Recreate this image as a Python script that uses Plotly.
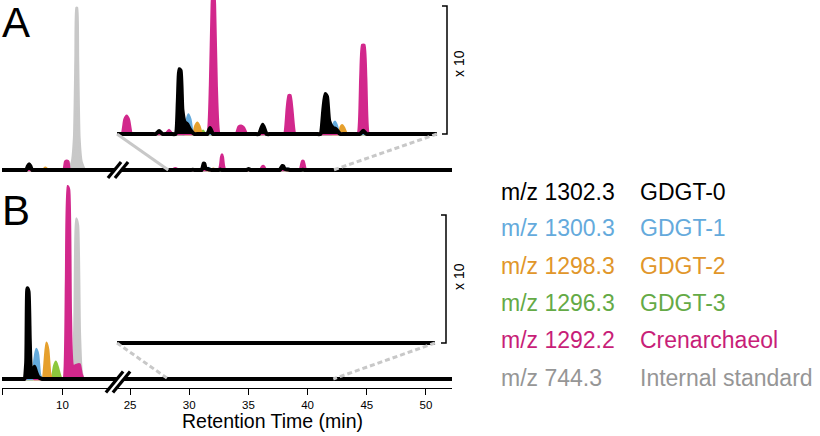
import plotly.graph_objects as go

W, H = 820, 436
FONT = "Liberation Sans, Arial, Helvetica, sans-serif"

# ---------------- data (retention time in min, intensity relative to internal standard = 100) ----------------
MZ_LABELS = ["m/z 1302.3", "m/z 1300.3", "m/z 1298.3", "m/z 1296.3", "m/z 1292.2", "m/z 744.3"]
COMPOUNDS = ["GDGT-0", "GDGT-1", "GDGT-2", "GDGT-3", "Crenarchaeol", "Internal standard"]
TEXT_COLORS = ["#000000", "#64AADC", "#E1962A", "#64AA46", "#C81E78", "#969696"]
TRACE_COLORS = ["#000000", "#64AADC", "#E6A02D", "#8CC83C", "#D2288C", "#C8C8C8"]

TICKS_LEFT = [5, 10]
TICKS_RIGHT = [25, 30, 35, 40, 45, 50]

# Panel A
A_black_t = [4.8, 6.8, 6.95, 7.1, 7.2, 7.3, 7.45, 7.6,
             29.95, 30.15, 30.3, 30.45, 30.65,
             30.85, 31.05, 31.15, 31.22, 31.28, 31.36, 31.46, 31.58, 31.72, 31.9, 32.1,
             32.35, 32.5, 32.62, 32.75, 32.9,
             34.65, 34.85, 35.02, 35.2, 35.4,
             37.45, 37.65, 37.78, 37.87, 37.95, 38.05, 38.2, 38.35, 38.55, 38.75,
             39.25, 39.45, 39.6, 39.75, 39.95, 52.3]
A_black_i = [0, 0, 0, 2.5, 3.5, 2.5, 0, 0,
             0, 0, 0.19, 0, 0,
             0, 0, 2.0, 4.0, 3.9, 1.5, 0.75, 0.6, 0.25, 0, 0,
             0, 0, 0.37, 0, 0,
             0, 0, 0.57, 0, 0,
             0, 0, 1.5, 2.47, 2.3, 0.8, 0.4, 0.3, 0, 0,
             0, 0, 0.2, 0, 0, 0]
A_blue_t = [4.8, 31.3, 31.45, 31.55, 31.63, 31.72, 31.85, 32.0,
            38.0, 38.15, 38.25, 38.31, 38.4, 38.5, 38.65, 52.3]
A_blue_i = [0, 0, 0, 0.8, 1.2, 0.9, 0, 0,
            0, 0, 0.6, 0.76, 0.5, 0, 0, 0]
A_orange_t = [4.8, 8.25, 8.4, 8.5, 8.56, 8.65, 8.75, 8.9,
              31.7, 31.85, 31.95, 32.04, 32.13, 32.25, 32.4,
              38.35, 38.5, 38.58, 38.64, 38.72, 38.85, 39.0, 52.3]
A_orange_i = [0, 0, 0, 1.2, 1.4, 1.0, 0, 0,
              0, 0, 0.5, 0.7, 0.5, 0, 0,
              0, 0, 0.45, 0.54, 0.4, 0, 0, 0]
A_green_t = [4.8, 32.05, 32.2, 32.3, 32.4, 32.55, 52.3]
A_green_i = [0, 0, 0, 0.2, 0, 0, 0]
A_pink_t = [4.8, 9.95, 10.1, 10.22, 10.3, 10.42, 10.5, 10.6, 10.75,
            28.45, 28.6, 28.72, 28.82, 28.92, 29.05, 29.2,
            30.45, 30.6, 30.75, 30.9, 31.05,
            32.35, 32.5, 32.62, 32.7, 32.77, 32.84, 32.92, 33.05, 33.2,
            33.65, 33.8, 33.92, 34.04, 34.16, 34.3, 34.45,
            35.85, 36.0, 36.12, 36.2, 36.28, 36.36, 36.5, 36.65,
            39.2, 39.35, 39.47, 39.55, 39.65, 39.73, 39.85, 40.0, 52.3]
A_pink_i = [0, 0, 0, 5.0, 5.6, 5.6, 5.0, 0, 0,
            0, 0, 0.9, 1.13, 0.9, 0, 0,
            0, 0, 0.25, 0, 0,
            0, 0, 3.0, 8.0, 9.5, 8.0, 3.0, 0, 0,
            0, 0, 0.45, 0.51, 0.4, 0, 0,
            0, 0, 1.6, 2.4, 2.4, 1.6, 0, 0,
            0, 0, 3.5, 5.5, 5.5, 3.5, 0, 0, 0]
A_gray_t = [4.8, 10.3, 10.5, 10.8, 10.98, 11.1, 11.17, 11.23, 11.3, 11.42, 11.6, 11.9, 12.1, 52.3]
A_gray_i = [0, 0, 0, 5, 20, 70, 100, 100, 70, 20, 5, 0, 0, 0]

# Panel B
B_black_t = [4.8, 6.65, 6.8, 6.95, 7.05, 7.15, 7.25, 7.35, 7.5, 7.65, 7.8, 8.0, 8.3, 8.5, 52.3]
B_black_i = [0, 0, 0, 10, 56, 54, 25, 6, 3, 7.6, 4, 1, 0, 0, 0]
B_blue_t = [4.8, 7.35, 7.5, 7.65, 7.8, 7.95, 8.1, 8.25, 8.4, 52.3]
B_blue_i = [0, 0, 0, 12, 18.5, 15, 3, 0, 0, 0]
B_orange_t = [4.8, 8.2, 8.35, 8.5, 8.65, 8.8, 8.95, 9.1, 9.25, 52.3]
B_orange_i = [0, 0, 0, 10, 22.4, 18, 4, 0, 0, 0]
B_green_t = [4.8, 8.95, 9.1, 9.3, 9.45, 9.65, 9.85, 10.0, 10.2, 10.35, 10.5, 10.65, 10.8, 10.95, 52.3]
B_green_i = [0, 0, 0, 8, 10.7, 6, 1, 0, 0, 7, 7.6, 5, 0, 0, 0]
B_pink_t = [4.8, 6.75, 6.9, 7.0, 7.5, 7.65, 7.8, 9.95, 10.1, 10.3, 10.42, 10.55, 10.7, 10.9,
            11.3, 11.45, 11.6, 11.8, 11.95, 52.3]
B_pink_i = [0, 0, 0, 1.5, 1.2, 0, 0, 0, 0, 60, 119, 117, 40, 8,
            9, 9, 3, 0, 0, 0]
B_gray_t = [4.8, 10.65, 10.8, 11.0, 11.15, 11.3, 11.45, 11.6, 11.8, 11.95, 52.3]
B_gray_i = [0, 0, 0, 30, 99, 95, 30, 5, 0, 0, 0]

PANEL_A = [(A_black_t, A_black_i), (A_blue_t, A_blue_i), (A_orange_t, A_orange_i),
           (A_green_t, A_green_i), (A_pink_t, A_pink_i), (A_gray_t, A_gray_i)]
PANEL_B = [(B_black_t, B_black_i), (B_blue_t, B_blue_i), (B_orange_t, B_orange_i),
           (B_green_t, B_green_i), (B_pink_t, B_pink_i), (B_gray_t, B_gray_i)]
DRAW_ORDER = [5, 3, 2, 1, 4, 0]  # gray, green, orange, blue, pink, black on top

ZOOM_FACTOR = 10
ZOOM_WINDOW = [28.38, 42.96]       # time window shown in the x10 insets
ZOOM_SOURCE = [28.23, 42.17]       # where the connector lines meet the main trace
BRACKET_SPAN = 7.9

# ---------------- layout geometry ----------------
def px(x):
    return x / W

def py(y):
    return 1 - y / H

LEFT_RANGE = [4.92, 14.58]
RIGHT_RANGE = [23.9, 52.2]
XL_DOM = [px(2), px(117)]
XR_DOM = [px(117), px(452)]
XIA_DOM = [px(117), px(437)]
XIB_DOM = [px(117), px(435)]
MAIN_SCALE = 1.62  # px per unit
YA_DOM = [py(180), py(0)]
YA_RNG = [-10 / MAIN_SCALE, 170 / MAIN_SCALE]
YB_DOM = [py(388), py(180)]
YB_RNG = [-9 / MAIN_SCALE, 199 / MAIN_SCALE]
IN_SCALE = MAIN_SCALE * ZOOM_FACTOR
YIA_DOM = [py(140), py(0)]
YIA_RNG = [-6 / IN_SCALE, 134 / IN_SCALE]
YIB_DOM = [py(350), py(200)]
YIB_RNG = [-7 / IN_SCALE, 143 / IN_SCALE]


def to_paper(v, dom, rng):
    return dom[0] + (v - rng[0]) / (rng[1] - rng[0]) * (dom[1] - dom[0])


fig = go.Figure()

subplots_A = [("x", "y"), ("x2", "y"), ("x5", "y3")]
subplots_B = [("x3", "y2"), ("x4", "y2"), ("x6", "y4")]

for panel, subplots in ((PANEL_A, subplots_A), (PANEL_B, subplots_B)):
    for xa, ya in subplots:
        for k in DRAW_ORDER:
            t, inten = panel[k]
            fig.add_trace(go.Scatter(
                x=t, y=inten, xaxis=xa, yaxis=ya, mode="lines",
                line=dict(color=TRACE_COLORS[k], width=4 if k == 0 else 2.5,
                          shape="spline", smoothing=0.5),
                fill="tozeroy", fillcolor=TRACE_COLORS[k],
                showlegend=False, hoverinfo="skip"))

hidden = dict(visible=False, showgrid=False, zeroline=False)
tickax = dict(showline=True, linecolor="black", linewidth=1.2, ticks="outside",
              ticklen=6, tickwidth=1, tickcolor="black", showgrid=False, zeroline=False,
              tickfont=dict(family=FONT, size=11.5, color="black"), tickmode="array")

fig.update_layout(
    width=W, height=H, margin=dict(l=0, r=0, t=0, b=0),
    paper_bgcolor="white", plot_bgcolor="rgba(0,0,0,0)",
    xaxis=dict(domain=XL_DOM, range=LEFT_RANGE, anchor="y", **hidden),
    xaxis2=dict(domain=XR_DOM, range=RIGHT_RANGE, anchor="y", **hidden),
    xaxis3=dict(domain=XL_DOM, range=LEFT_RANGE, anchor="y2", tickvals=TICKS_LEFT, **tickax),
    xaxis4=dict(domain=XR_DOM, range=RIGHT_RANGE, anchor="y2", tickvals=TICKS_RIGHT, **tickax),
    xaxis5=dict(domain=XIA_DOM, range=ZOOM_WINDOW, anchor="y3", **hidden),
    xaxis6=dict(domain=XIB_DOM, range=ZOOM_WINDOW, anchor="y4", **hidden),
    yaxis=dict(domain=YA_DOM, range=YA_RNG, anchor="x", **hidden),
    yaxis2=dict(domain=YB_DOM, range=YB_RNG, anchor="x3", **hidden),
    yaxis3=dict(domain=YIA_DOM, range=YIA_RNG, anchor="x5", **hidden),
    yaxis4=dict(domain=YIB_DOM, range=YIB_RNG, anchor="x6", **hidden),
)

shapes = []
# connector lines between the main trace and the x10 insets
for (xin_dom, yin_dom, yin_rng, ymain_dom, ymain_rng, dashes) in (
        (XIA_DOM, YIA_DOM, YIA_RNG, YA_DOM, YA_RNG, ("solid", "5px,3px")),
        (XIB_DOM, YIB_DOM, YIB_RNG, YB_DOM, YB_RNG, ("5px,3px", "5px,3px"))):
    for j in range(2):
        x0 = to_paper(ZOOM_WINDOW[j], xin_dom, ZOOM_WINDOW)
        y0 = to_paper(0, yin_dom, yin_rng)
        x1 = to_paper(ZOOM_SOURCE[j], XR_DOM, RIGHT_RANGE)
        y1 = to_paper(0, ymain_dom, ymain_rng)
        shapes.append(dict(type="line", xref="paper", yref="paper", x0=x0, y0=y0, x1=x1, y1=y1,
                           line=dict(color="#C8C8C8", width=3, dash=dashes[j]), layer="above"))

# x10 brackets
for (xb, yin_dom, yin_rng) in ((447, YIA_DOM, YIA_RNG), (446, YIB_DOM, YIB_RNG)):
    yb0 = to_paper(0, yin_dom, yin_rng)
    yb1 = to_paper(BRACKET_SPAN, yin_dom, yin_rng)
    path = (f"M {px(xb - 5)},{yb1} L {px(xb)},{yb1} L {px(xb)},{yb0} L {px(xb - 5)},{yb0}")
    shapes.append(dict(type="path", xref="paper", yref="paper", path=path,
                       line=dict(color="black", width=1.5)))

# axis break marks
for (yc, half) in ((170, 8), (382, 10.5)):
    for dx, col, wdt in ((3.5, "white", 5), (0, "black", 3.2), (7, "black", 3.2)):
        xc = 114.5 + dx
        x0, x1 = xc - half * 0.82, xc + half * 0.82
        shapes.append(dict(type="line", xref="paper", yref="paper",
                           x0=px(x0), y0=py(yc + half), x1=px(x1), y1=py(yc - half),
                           line=dict(color=col, width=wdt), layer="above"))
fig.update_layout(shapes=shapes)

ann = []
ann.append(dict(text="A", x=px(0), y=py(23), xanchor="left", yanchor="middle",
                font=dict(family=FONT, size=42, color="black")))
ann.append(dict(text="B", x=px(0), y=py(210), xanchor="left", yanchor="middle",
                font=dict(family=FONT, size=42, color="black")))
for yc in (64, 277):
    ann.append(dict(text="x 10", x=px(459), y=py(yc), textangle=-90, xanchor="center",
                    yanchor="middle", font=dict(family=FONT, size=14, color="black")))
ann.append(dict(text="Retention Time (min)", x=px(272), y=py(421), xanchor="center",
                yanchor="middle", font=dict(family=FONT, size=19.5, color="black")))
ROW_Y = [191.7, 228.3, 266, 302.7, 340, 378.3]
for k in range(len(COMPOUNDS)):
    ann.append(dict(text=MZ_LABELS[k], x=px(499), y=py(ROW_Y[k]), xanchor="left", yanchor="middle",
                    font=dict(family=FONT, size=23, color=TEXT_COLORS[k])))
    ann.append(dict(text=COMPOUNDS[k], x=px(638), y=py(ROW_Y[k]), xanchor="left", yanchor="middle",
                    font=dict(family=FONT, size=23, color=TEXT_COLORS[k])))
for a in ann:
    a.update(xref="paper", yref="paper", showarrow=False)
fig.update_layout(annotations=ann)

fig.write_html("out.html", config={"displayModeBar": False},
               post_script="document.body.style.margin='0px';document.body.style.overflow='hidden';")
